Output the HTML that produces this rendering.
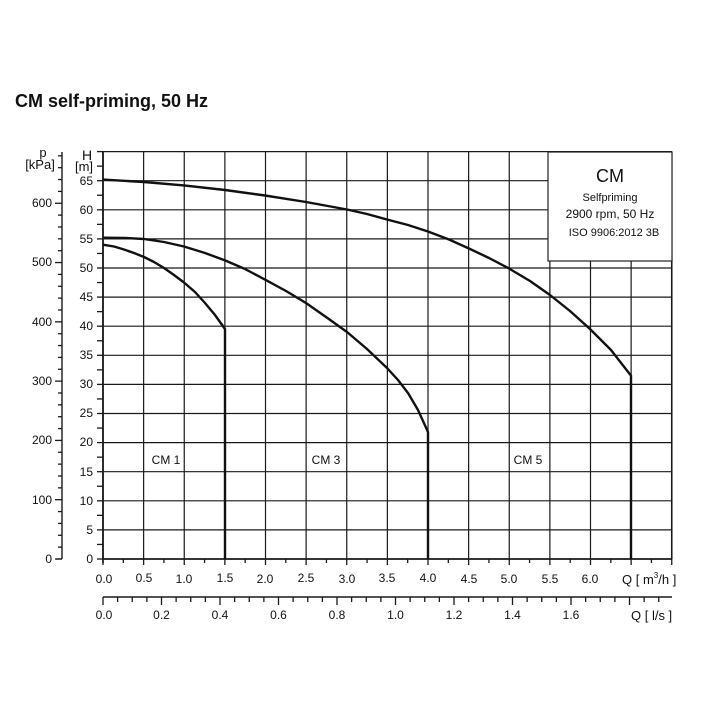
<!DOCTYPE html>
<html><head><meta charset="utf-8"><style>
body{margin:0;background:#fff}
svg text{font-family:"Liberation Sans",sans-serif;fill:#111}
</style></head><body>
<svg id="s" width="717" height="717" viewBox="0 0 717 717" xmlns="http://www.w3.org/2000/svg">
<rect width="717" height="717" fill="#fff"/>
<text x="15" y="107" font-size="18" font-weight="bold">CM self-priming, 50 Hz</text>
<g id="grid" stroke="#1a1a1a" stroke-width="1.3"></g>
<g id="ticks" stroke="#1a1a1a" stroke-width="1.3"></g>
<rect x="548" y="152" width="124" height="109" fill="#fff" stroke="#222" stroke-width="1.2"/>
<text x="610" y="182" font-size="18" text-anchor="middle">CM</text>
<text x="610" y="201" font-size="11" text-anchor="middle">Selfpriming</text>
<text x="610" y="218" font-size="12" text-anchor="middle">2900 rpm, 50 Hz</text>
<text x="614" y="236" font-size="11" text-anchor="middle">ISO 9906:2012 3B</text>
<g fill="none" stroke="#111" stroke-width="2.4" stroke-linejoin="round">
<polyline points="103,179.6 144,182 184,185.4 225,190 265,195.5 306,202 347,209.5 367,214 387,219.5 408,225 428,231.5 449,239.5 469,248.5 489,258 509,268.5 530,281 550,295 570,311 590,329 611,350 631,375.7 631,559"/>
<polyline points="103,237.7 124,237.9 144,239 164,242 184,246.5 205,253 225,260.4 245,269 265,279.6 286,291 306,303 326,317 347,332 367,349 387,368 398,380 408,393 418,410 428,432 428,559"/>
<polyline points="103,244.7 114,246.5 124,249.5 134,253 144,257 154,262 164,268 174,275 184,282.5 195,292 205,303 215,315 225,329 225,559"/>
</g>
<g font-size="12">
<text x="166" y="464" text-anchor="middle">CM 1</text>
<text x="326" y="464" text-anchor="middle">CM 3</text>
<text x="528" y="464" text-anchor="middle">CM 5</text>
</g>
<g font-size="12" text-anchor="end">
<text x="93" y="563">0</text><text x="93" y="534">5</text><text x="93" y="505">10</text><text x="93" y="476">15</text>
<text x="93" y="446">20</text><text x="93" y="417">25</text><text x="93" y="388">30</text><text x="93" y="359">35</text>
<text x="93" y="330">40</text><text x="93" y="301">45</text><text x="93" y="272">50</text><text x="93" y="243">55</text>
<text x="93" y="214">60</text><text x="93" y="185">65</text>
<text x="52" y="563">0</text><text x="52" y="504">100</text><text x="52" y="444">200</text><text x="52" y="385">300</text>
<text x="52" y="326">400</text><text x="52" y="266">500</text><text x="52" y="207">600</text>
</g>
<text x="87" y="160" font-size="14" text-anchor="middle">H</text>
<text x="84" y="171" font-size="13" text-anchor="middle">[m]</text>
<text x="43" y="157" font-size="13" text-anchor="middle">p</text>
<text x="40" y="169" font-size="13" text-anchor="middle">[kPa]</text>
<g font-size="12" text-anchor="middle">
<text x="104" y="583">0.0</text><text x="144" y="582">0.5</text><text x="184" y="583">1.0</text><text x="225" y="582">1.5</text>
<text x="265" y="583">2.0</text><text x="306" y="582">2.5</text><text x="347" y="583">3.0</text><text x="387" y="582">3.5</text>
<text x="428" y="582">4.0</text><text x="469" y="583">4.5</text><text x="509" y="583">5.0</text><text x="550" y="583">5.5</text>
<text x="590" y="583">6.0</text>
<text x="104" y="619">0.0</text><text x="161.5" y="619">0.2</text><text x="220" y="619">0.4</text><text x="278.5" y="619">0.6</text>
<text x="337" y="619">0.8</text><text x="395.5" y="619">1.0</text><text x="454" y="619">1.2</text><text x="512.5" y="619">1.4</text>
<text x="571" y="619">1.6</text>
</g>
<text x="622" y="584" font-size="13">Q [ m<tspan font-size="8" dy="-6">3</tspan><tspan dy="6">/h ]</tspan></text>
<text x="631" y="620" font-size="13">Q [ l/s ]</text>
</svg>
<script>
var ns="http://www.w3.org/2000/svg";
function L(g,x1,y1,x2,y2,w){var l=document.createElementNS(ns,"line");l.setAttribute("x1",x1);l.setAttribute("y1",y1);l.setAttribute("x2",x2);l.setAttribute("y2",y2);if(w)l.setAttribute("stroke-width",w);document.getElementById(g).appendChild(l);}
var X0=103,XR=672,Y0=559,YT=152,px=81.25,py=5.82;
for(var i=0;i<=14;i++){var x=X0+i*px/2;L("grid",x,YT,x,Y0,(i==0||i==14)?1.6:1.2);}
for(var h=0;h<=70;h+=5){var y=Y0-h*py;L("grid",X0,y,XR,y,(h==0)?1.8:1.2);}
for(var h=0;h<=70;h+=2.5){var y=Y0-h*py;L("ticks",97,y,X0,y);}
L("ticks",X0,YT,X0,Y0+4,1.6);
for(var q=0;q<=7.001;q+=0.25){var x=X0+q*px;var big=Math.abs(q*2-Math.round(q*2))<1e-6;L("ticks",x,Y0,x,Y0+(big?6:4));}
var ky=0.5929;
L("ticks",62,152,62,Y0,1.4);L("ticks",56,Y0,62,Y0);
for(var p=0;p<=680;p+=20){var y=Y0-p*ky;if(y<152)break;L("ticks",p%100==0?55:58,y,62,y);}
L("ticks",X0,597,XR,597,1.6);
for(var v=0;v<=1.95;v+=0.05){var x=X0+v*292.5;if(x>XR+0.5)break;var big=Math.abs(v*5-Math.round(v*5))<1e-6;L("ticks",x,597,x,597+(big?8:5));}
</script>
</body></html>
